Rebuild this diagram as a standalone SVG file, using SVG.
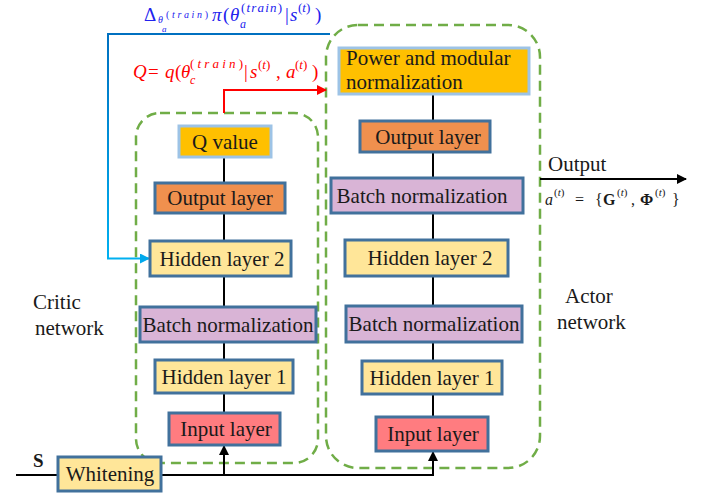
<svg xmlns="http://www.w3.org/2000/svg" width="716" height="493" viewBox="0 0 716 493" font-family="'Liberation Serif', 'Times New Roman', 'DejaVu Serif', serif">
<defs>
<style>
text{font-family:'Liberation Serif','Times New Roman','DejaVu Serif',serif}
.lbl{font-size:21px;fill:#1a1a1a;text-anchor:middle}
.side{font-size:21px;fill:#1a1a1a}
.box{stroke:#41719C;stroke-width:3}
.boxl{stroke:#9DC3E6;stroke-width:3}
.gold{fill:#FFC000}.orange{fill:#F0904E}.yellow{fill:#FFE699}.purple{fill:#D9B4D6}.red{fill:#FF7C80}
.dash{fill:none;stroke:#70AD47;stroke-width:2.5;stroke-dasharray:10 6}
.wire{fill:none;stroke:#000;stroke-width:2}
.i{font-style:italic}
</style>
<marker id="ak" viewBox="0 0 10 10" refX="9" refY="5" markerWidth="5" markerHeight="5" orient="auto"><path d="M0,0 L10,5 L0,10 z" fill="#000"/></marker>
<marker id="ar" viewBox="0 0 10 10" refX="9" refY="5" markerWidth="5" markerHeight="5" orient="auto"><path d="M0,0 L10,5 L0,10 z" fill="#FF0000"/></marker>
<marker id="ab" viewBox="0 0 10 10" refX="9" refY="5" markerWidth="5" markerHeight="5" orient="auto"><path d="M0,0 L10,5 L0,10 z" fill="#00A8EC"/></marker>
<linearGradient id="bg" x1="0" y1="0" x2="0" y2="1"><stop offset="0" stop-color="#0070C0"/><stop offset="1" stop-color="#00B0F0"/></linearGradient>
</defs>

<g id="critic-group">
<rect class="dash" x="136" y="113" width="182" height="350" rx="24"/>
</g>
<g id="actor-group">
<rect class="dash" x="326" y="25" width="214" height="443" rx="32"/>
</g>

<g id="connectors">
<path class="wire" d="M224,157V183M224,213V241M224,276V307M224,342V360M224,393V413"/>
<path class="wire" d="M433,94V121M433,152V178M433,213V240M433,276V306M433,342V361M433,394V417"/>
<path class="wire" d="M16,475H58"/>
<path class="wire" d="M161,475H433V452" marker-end="url(#ak)"/>
<path class="wire" d="M224,475V446" marker-end="url(#ak)"/>
<path fill="none" stroke="#FF0000" stroke-width="2" d="M224,113V90H326" marker-end="url(#ar)"/>
<path fill="none" stroke="url(#bg)" stroke-width="2" d="M330,34H108V258.5H149" marker-end="url(#ab)"/>
<path class="wire" d="M540,179H686" marker-end="url(#ak)"/>
</g>

<g id="critic-q"><rect class="boxl gold" x="179" y="126" width="92" height="31"/><text class="lbl" x="225" y="148.5">Q value</text></g>
<g id="critic-output"><rect class="box orange" x="155" y="183" width="130" height="30"/><text class="lbl" x="220" y="205">Output layer</text></g>
<g id="critic-hidden2"><rect class="box yellow" x="150" y="241" width="141" height="35"/><text class="lbl" x="222" y="265.5">Hidden layer 2</text></g>
<g id="critic-bn"><rect class="box purple" x="140" y="307" width="176" height="35"/><text class="lbl" x="228" y="331.5">Batch normalization</text></g>
<g id="critic-hidden1"><rect class="box yellow" x="155" y="360" width="138" height="33"/><text class="lbl" x="224" y="383.5">Hidden layer 1</text></g>
<g id="critic-input"><rect class="box red" x="169" y="413" width="111" height="32"/><text class="lbl" x="226" y="436">Input layer</text></g>

<g id="actor-power"><rect class="boxl gold" x="339" y="48" width="190" height="46"/>
<text class="side" x="346" y="65">Power and modular</text><text class="side" x="346" y="89">normalization</text></g>
<g id="actor-output"><rect class="box orange" x="360" y="121" width="130" height="31"/><text class="lbl" x="428" y="143.5">Output layer</text></g>
<g id="actor-bn1"><rect class="box purple" x="331" y="178" width="192" height="35"/><text class="lbl" x="422" y="202.5">Batch normalization</text></g>
<g id="actor-hidden2"><rect class="box yellow" x="345" y="240" width="163" height="36"/><text class="lbl" x="430" y="265">Hidden layer 2</text></g>
<g id="actor-bn2"><rect class="box purple" x="346" y="306" width="176" height="36"/><text class="lbl" x="434" y="331">Batch normalization</text></g>
<g id="actor-hidden1"><rect class="box yellow" x="362" y="361" width="140" height="33"/><text class="lbl" x="432" y="384.5">Hidden layer 1</text></g>
<g id="actor-input"><rect class="box red" x="376" y="417" width="112" height="34"/><text class="lbl" x="433" y="441">Input layer</text></g>

<g id="whitening"><rect class="box yellow" x="58" y="457" width="103" height="34"/><text class="lbl" x="110" y="481">Whitening</text></g>

<g id="labels">
<text x="33" y="467" font-size="19" font-weight="bold" fill="#1a1a1a">S</text>
<text class="side" x="33" y="309">Critic</text>
<text class="side" x="35" y="335">network</text>
<text class="side" x="565" y="303">Actor</text>
<text class="side" x="557" y="329">network</text>
<text class="side" x="548" y="171">Output</text>

<g fill="#1a1a1a" font-size="16">
<text x="545" y="205" class="i">a</text>
<text x="554" y="196" font-size="11">(<tspan class="i">t</tspan>)</text>
<text x="575" y="205">=</text>
<text x="595" y="205">{</text>
<text x="603" y="205" font-weight="bold">G</text>
<text x="617" y="196" font-size="11">(<tspan class="i">t</tspan>)</text>
<text x="631" y="205">,</text>
<text x="640" y="205" font-weight="bold">Φ</text>
<text x="655" y="196" font-size="11">(<tspan class="i">t</tspan>)</text>
<text x="672" y="205">}</text>
</g>

<g fill="#FF0000" font-size="19">
<text x="133" y="78" class="i">Q</text>
<text x="148" y="78">=</text>
<text x="165" y="78" class="i">q</text>
<text x="175" y="78">(</text>
<text x="181" y="78" class="i">θ</text>
<text x="190" y="84" font-size="12" class="i">c</text>
<text x="190" y="68" font-size="13" textLength="53">(<tspan class="i">train</tspan>)</text>
<text x="244" y="78">|</text>
<text x="250" y="78" class="i">s</text>
<text x="258" y="69" font-size="13">(<tspan class="i">t</tspan>)</text>
<text x="276" y="78">,</text>
<text x="286" y="78" class="i">a</text>
<text x="295" y="69" font-size="13">(<tspan class="i">t</tspan>)</text>
<text x="312" y="78">)</text>
</g>

<g fill="#2222EE" font-size="19">
<text x="144" y="21">Δ</text>
<text x="158" y="23" font-size="10" class="i">θ</text>
<text x="162" y="32" font-size="9" class="i">a</text>
<text x="166" y="18" font-size="10" textLength="42">(<tspan class="i">train</tspan>)</text>
<text x="212" y="21" class="i">π</text>
<text x="223" y="21">(</text>
<text x="230" y="21" class="i">θ</text>
<text x="240" y="28" font-size="12" class="i">a</text>
<text x="241" y="12" font-size="13" textLength="41">(<tspan class="i">train</tspan>)</text>
<text x="285" y="21">|</text>
<text x="290" y="21" class="i">s</text>
<text x="298" y="12" font-size="13">(<tspan class="i">t</tspan>)</text>
<text x="315" y="21">)</text>
</g>
</g>
</svg>
